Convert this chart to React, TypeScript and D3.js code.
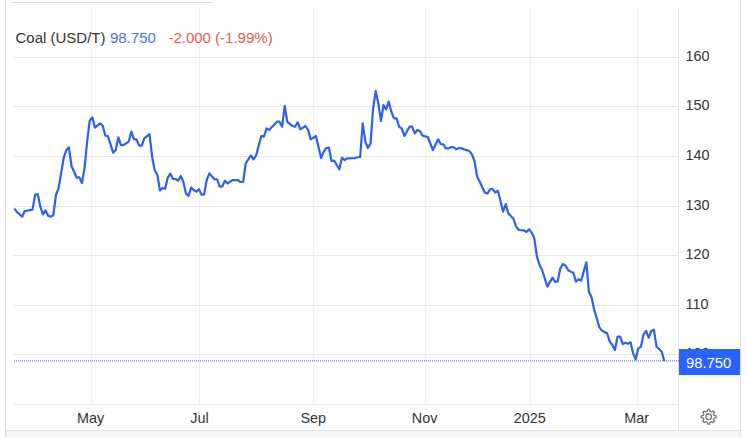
import React from "react";
import * as d3 from "d3";

const WIDTH = 746;
const HEIGHT = 437;

const sessions = [
  0,1,3,4,5,7,8,9,10,11,12,13,14,15,16,17,18,19,20,21,22,24,25,26,27,28,29,30,31,33,34,35,36,38,39,40,41,42,44,45,46,47,48,49,50,52,53,54,55,56,57,58,59,60,61,62,63,64,65,66,67,
  68,69,70,71,72,73,74,75,77,78,79,80,81,82,84,86,87,88,89,91,92,93,95,96,97,98,101,
  102,103,104,105,107,108,109,110,112,113,114,116,118,119,120,121,122,123,124,125,126,127,128,131,132,133,134,135,136,137,138,
  139,140,141,142,143,144,145,146,147,148,149,150,152,153,154,155,156,157,159,161,163,164,165,166,167,168,169,170,171,172,173,175,176,
  177,178,179,181,182,183,184,185,186,188,189,190,192,193,194,196,
  197,198,199,200,201,202,203,205,207,208,209,210,211,212,213,214,215,216,217,218,220,221,222,223,225,226,228,229,230,231,232,233,234,235,236,237,238,239,240,241,242,243,244,245,246,247,248,249,250,
];

const coal = [
  129.46,128.85,127.85,128.99,129.06,129.26,132.28,132.42,129.86,128.32,129.13,128.05,127.85,128.12,132.2,133.56,136.59,139.75,141.3,141.83,138.07,
  135.71,135.78,134.64,137.6,142.98,147.2,147.89,145.8,146.68,146.2,144.19,144.12,140.76,141.3,143.85,142.3,142.3,142.98,145.0,143.5,143.45,142.17,142.17,143.65,144.5,
  139.95,137.13,136.39,133.16,133.63,133.5,135.71,136.52,135.45,135.45,135.11,136.05,134.91,132.55,132.02,
  133.7,133.23,132.89,133.36,132.29,132.35,135.24,136.59,135.38,135.38,133.9,133.97,135.11,134.57,135.24,135.24,134.84,134.84,138.61,140.22,139.41,140.22,144.12,143.99,145.67,145.33,147.01,
  147.01,146.0,150.18,146.95,146.14,146.0,146.88,145.47,146.14,145.33,143.45,144.12,139.68,140.96,141.7,141.77,139.08,139.15,138.27,137.4,139.75,139.28,139.62,139.68,139.82,139.89,146.68,142.98,141.7,142.64,149.7,
  153.2,150.7,147.15,150.38,149.5,151.05,149.03,147.69,147.69,146.0,145.67,144.12,146.0,146.0,144.66,145.33,145.13,144.19,143.92,141.3,143.45,142.51,142.44,141.63,141.63,141.9,141.84,141.43,141.7,141.63,141.43,141.1,140.42,
  139.08,135.92,134.91,132.69,132.55,133.43,133.43,132.69,133.09,128.86,130.4,128.52,127.38,125.83,125.16,125.09,
  124.76,125.3,124.62,123.48,119.78,118.1,117.09,113.73,115.55,114.67,114.81,117.43,118.3,117.97,117.09,116.76,116.55,114.74,115.21,114.94,118.64,112.72,111.58,109.16,105.53,104.85,104.32,102.63,101.96,100.95,103.64,103.64,102.16,102.43,102.23,102.5,100.28,99.07,101.29,101.63,104.11,104.79,103.44,104.79,105.05,101.63,101.15,100.62,98.75,
];

const xTickSessions = [29.3, 71.2, 115, 157.8, 198.2, 239.4];
const xTickLabels = ["May", "Jul", "Sep", "Nov", "2025", "Mar"];
const yTicks = [90, 100, 110, 120, 130, 140, 150, 160];
const yTickLabels = ["160", "150", "140", "130", "120", "110", "100"];
const lastValue = 98.75;
const titleName = "Coal (USD/T)";
const titlePrice = "98.750";
const titleChange = "-2.000 (-1.99%)";

const gearPath = (cx: number, cy: number) => {
  const teeth = 8;
  const pts: [number, number][] = [];
  for (let i = 0; i < teeth; i++) {
    const a = (i / teeth) * Math.PI * 2;
    const w = Math.PI / teeth;
    [[-0.62, 5.6], [-0.32, 7.4], [0.32, 7.4], [0.62, 5.6]].forEach(([k, r]) => {
      pts.push([cx + r * Math.cos(a + k * w), cy + r * Math.sin(a + k * w)]);
    });
  }
  return d3.line().curve(d3.curveLinearClosed)(pts) as string;
};

export default function App() {
  const x = d3.scaleLinear().domain([0, 250]).range([14.33, 664.33]);
  const y = d3.scaleLinear().domain([90, 160]).range([404.3, 57.3]);
  const points = sessions.map((s, i) => [s, coal[i]] as [number, number]);
  const line = d3
    .line<[number, number]>()
    .x((d) => x(d[0]))
    .y((d) => y(d[1]));
  const font = "'Liberation Sans', Arial, sans-serif";
  const lastY = y(lastValue);

  return (
    <svg
      width={WIDTH}
      height={HEIGHT}
      viewBox={`0 0 ${WIDTH} ${HEIGHT}`}
      style={{ position: "absolute", left: 0, top: 0, background: "#fff" }}
      fontFamily={font}
    >
      <rect x={6} y={430.5} width={735} height={7} fill="#f5f5f5" />
      <line x1={6} x2={741} y1={430.5} y2={430.5} stroke="#e2e2e2" />
      <line x1={5.5} x2={5.5} y1={0} y2={437} stroke="#d9d9dd" />
      <line x1={740.5} x2={740.5} y1={0} y2={437} stroke="#dcdcdc" />
      <line x1={12} x2={212} y1={2.5} y2={2.5} stroke="#d8d8d8" />

      {xTickSessions.map((s) => (
        <line key={s} x1={Math.round(x(s)) + 0.5} x2={Math.round(x(s)) + 0.5} y1={8} y2={404} stroke="#eef0f2" />
      ))}
      {yTicks.map((t) => (
        <line key={t} x1={13.5} x2={678} y1={Math.floor(y(t)) + 0.5} y2={Math.floor(y(t)) + 0.5} stroke="#e6e6e8" />
      ))}
      <line x1={678.5} x2={678.5} y1={8} y2={430} stroke="#e2e4e7" />

      {xTickSessions.map((s, i) => (
        <text key={i} x={x(s)} y={423} textAnchor="middle" fontSize={14.4} fill="#333">
          {xTickLabels[i]}
        </text>
      ))}
      {yTickLabels.map((label) => (
        <text key={label} x={685.5} y={y(+label) + 3.5} fontSize={14.4} fill="#333">
          {label}
        </text>
      ))}

      <line x1={14} x2={679} y1={lastY} y2={lastY} stroke="#3f5fd0" strokeWidth={1} strokeDasharray="1 1" />

      <path d={line(points) as string} fill="none" stroke="#2b62e9" strokeWidth={2.2} strokeLinejoin="round" />

      <rect x={679} y={349} width={61} height={26} fill="#2962ff" />
      <text x={686} y={368} fontSize={14.8} fill="#fff">{titlePrice}</text>

      <text x={15.5} y={42.8} fontSize={15} fill="#333">
        <tspan>{titleName}</tspan>
        <tspan dx={4.5} fill="#4a6fdc">{titlePrice}</tspan>
        <tspan dx={12.5} fill="#e05a5a">{titleChange}</tspan>
      </text>

      <path d={gearPath(708.7, 416.8)} fill="none" stroke="#777" strokeWidth={1.3} strokeLinejoin="round" />
      <circle cx={708.7} cy={416.8} r={2.8} fill="none" stroke="#777" strokeWidth={1.3} />
    </svg>
  );
}
